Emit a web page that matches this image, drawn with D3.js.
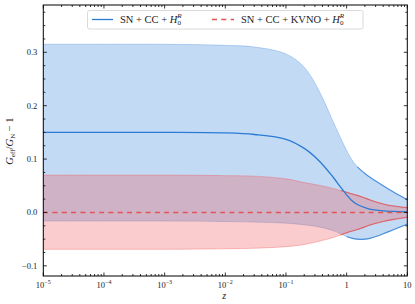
<!DOCTYPE html>
<html><head><meta charset="utf-8">
<script src="https://cdn.jsdelivr.net/npm/d3@7"></script>
<style>body{margin:0;background:#fff}svg{display:block}</style>
</head><body>
<svg id="c" width="415" height="304"></svg>
<script>
// redshift sample points
const zVals = [1e-5, 1e-4, 1e-3, 1e-2, 0.03, 0.1, 0.2, 0.35, 0.6, 0.8, 1, 1.2, 1.5, 2, 2.5, 4, 6, 10];
// SN + CC + H0R
const blueMean  = [0.150, 0.150, 0.150, 0.149, 0.146, 0.137, 0.120, 0.097, 0.066, 0.047, 0.033, 0.023, 0.015, 0.009, 0.006, 0.003, 0.002, 0.001];
const blueUpper = [0.315, 0.315, 0.315, 0.313, 0.310, 0.297, 0.272, 0.228, 0.170, 0.139, 0.116, 0.100, 0.0855, 0.073, 0.065, 0.050, 0.038, 0.024];
const blueLower = [-0.016, -0.016, -0.016, -0.017, -0.018, -0.020, -0.023, -0.027, -0.034, -0.040, -0.045, -0.048, -0.050, -0.050, -0.048, -0.040, -0.032, -0.022];
// SN + CC + KVNO + H0R
const redMean  = [0, 0, 0, 0, 0, 0, 0, 0, 0, 0, 0, 0, 0, 0, 0, 0, 0, 0];
const redUpper = [0.070, 0.070, 0.070, 0.069, 0.068, 0.063, 0.056, 0.051, 0.045, 0.041, 0.038, 0.035, 0.032, 0.027, 0.023, 0.016, 0.012, 0.009];
const redLower = [-0.069, -0.069, -0.069, -0.068, -0.067, -0.064, -0.060, -0.054, -0.047, -0.042, -0.038, -0.035, -0.032, -0.027, -0.023, -0.017, -0.013, -0.009];
const xTicks = [1e-5, 1e-4, 1e-3, 1e-2, 1e-1, 1, 10];
const xTickLabels = [["10","−5"],["10","−4"],["10","−3"],["10","−2"],["10","−1"],["1",""],["10",""]];
const yTicks = [-0.1, 0.0, 0.1, 0.2, 0.3];
const yTickLabels = ["−0.1", "0.0", "0.1", "0.2", "0.3"];
const legendLabels = [["SN + CC + ", "H", "0", "R"], ["SN + CC + KVNO + ", "H", "0", "R"]];

const svg = d3.select("#c");
const L = 43.3, R = 407.3, T = 5, B = 276;
const x = d3.scaleLog().domain([1e-5, 10]).range([L, R]);
const y = d3.scaleLinear().domain([-0.119, 0.3886]).range([B, T]);
const font = "'Liberation Serif', 'DejaVu Serif', serif";

svg.append("clipPath").attr("id","clp").append("rect")
  .attr("x", L).attr("y", T).attr("width", R-L).attr("height", B-T);
const g = svg.append("g").attr("clip-path","url(#clp)");

const idx = d3.range(zVals.length);
const curve = d3.curveCatmullRom.alpha(0.5);
const area = (lo, hi) => d3.area().x(i => x(zVals[i])).y0(i => y(lo[i])).y1(i => y(hi[i])).curve(curve);
const line = (v) => d3.line().x(i => x(zVals[i])).y(i => y(v[i])).curve(curve);

// blue band
g.append("path").attr("d", area(blueLower, blueUpper)(idx)).attr("fill", "#4a90e2").attr("fill-opacity", 0.33);
[blueUpper, blueLower].forEach(v => g.append("path").attr("d", line(v)(idx)).attr("fill","none")
  .attr("stroke","#4a90e2").attr("stroke-opacity",0.35).attr("stroke-width",1));
// red band
g.append("path").attr("d", area(redLower, redUpper)(idx)).attr("fill", "#f0555a").attr("fill-opacity", 0.3);
[redUpper, redLower].forEach(v => g.append("path").attr("d", line(v)(idx)).attr("fill","none")
  .attr("stroke","#f0555a").attr("stroke-opacity",0.35).attr("stroke-width",1));
// darker edges at high z
const sub = zmin => idx.filter(i => zVals[i] >= zmin);
[[blueUpper, 1.5], [blueLower, 1]].forEach(([v, zm]) => g.append("path").attr("d", line(v)(sub(zm))).attr("fill","none")
  .attr("stroke","#2a7bd4").attr("stroke-opacity",0.75).attr("stroke-width",1.1));
[[redUpper, 0.8], [redLower, 0.8]].forEach(([v, zm]) => g.append("path").attr("d", line(v)(sub(zm))).attr("fill","none")
  .attr("stroke","#e04a4a").attr("stroke-opacity",0.7).attr("stroke-width",1.1));
// mean lines
g.append("path").attr("d", line(blueMean)(idx)).attr("fill","none").attr("stroke","#2a7bd4").attr("stroke-width",1.3);
g.append("path").attr("d", line(redMean)(idx)).attr("fill","none").attr("stroke","#e05555")
  .attr("stroke-width",1.4).attr("stroke-dasharray","5,4.3");

// axes
const minorX = [];
for (let e = -5; e < 1; e++) for (let k = 2; k <= 9; k++) minorX.push(k * Math.pow(10, e));
const minorY = d3.range(-0.1, 0.38, 0.025).filter(v => Math.abs(Math.round(v*10)/10 - v) > 1e-6);
const ax = svg.append("g").attr("stroke","#000").attr("stroke-width",0.8);
xTicks.forEach(t => {
  ax.append("line").attr("x1",x(t)).attr("x2",x(t)).attr("y1",B).attr("y2",B-3.5);
  ax.append("line").attr("x1",x(t)).attr("x2",x(t)).attr("y1",T).attr("y2",T+3.5);
});
minorX.forEach(t => {
  ax.append("line").attr("x1",x(t)).attr("x2",x(t)).attr("y1",B).attr("y2",B-2);
  ax.append("line").attr("x1",x(t)).attr("x2",x(t)).attr("y1",T).attr("y2",T+2);
});
yTicks.forEach(t => {
  ax.append("line").attr("x1",L).attr("x2",L+3.5).attr("y1",y(t)).attr("y2",y(t));
  ax.append("line").attr("x1",R).attr("x2",R-3.5).attr("y1",y(t)).attr("y2",y(t));
});
minorY.forEach(t => {
  ax.append("line").attr("x1",L).attr("x2",L+2).attr("y1",y(t)).attr("y2",y(t));
  ax.append("line").attr("x1",R).attr("x2",R-2).attr("y1",y(t)).attr("y2",y(t));
});
svg.append("rect").attr("x",L).attr("y",T).attr("width",R-L).attr("height",B-T)
  .attr("fill","none").attr("stroke","#000").attr("stroke-width",1);

// tick labels
xTicks.forEach((t, i) => {
  const tx = svg.append("text").attr("x", x(t)).attr("y", B+12).attr("text-anchor","middle")
    .attr("font-family", font).attr("font-size", 8.5).attr("fill","#222");
  tx.append("tspan").text(xTickLabels[i][0]);
  if (xTickLabels[i][1]) tx.append("tspan").attr("font-size",6).attr("dy",-3.8).text(xTickLabels[i][1]);
});
yTicks.forEach((t, i) => {
  svg.append("text").attr("x", L-6).attr("y", y(t)+2.9).attr("text-anchor","end")
    .attr("font-family", font).attr("font-size", 8.5).attr("fill","#222").text(yTickLabels[i]);
});
// axis labels
svg.append("text").attr("x", (L+R)/2-1).attr("y", 299).attr("text-anchor","middle")
  .attr("font-family", font).attr("font-style","italic").attr("font-size", 10).attr("fill","#222").text("z");
const yl = svg.append("text").attr("transform","translate(13,141) rotate(-90)").attr("text-anchor","middle")
  .attr("font-family", font).attr("font-size", 10.5).attr("fill","#222");
yl.append("tspan").attr("font-style","italic").text("G");
yl.append("tspan").attr("font-size",7).attr("dy",2).text("eff");
yl.append("tspan").attr("dy",-2).text("/");
yl.append("tspan").attr("font-style","italic").text("G");
yl.append("tspan").attr("font-size",7).attr("dy",2).text("N");
yl.append("tspan").attr("dy",-2).text(" − 1");

// legend
svg.append("rect").attr("x",87.5).attr("y",10.5).attr("width",275.5).attr("height",18.5).attr("rx",2)
  .attr("fill","#fff").attr("fill-opacity",0.85).attr("stroke","#d0d0d0").attr("stroke-width",0.8);
svg.append("line").attr("x1",92).attr("x2",113).attr("y1",19.5).attr("y2",19.5).attr("stroke","#2a7bd4").attr("stroke-width",1.3);
svg.append("line").attr("x1",212).attr("x2",234).attr("y1",19.5).attr("y2",19.5).attr("stroke","#e05555")
  .attr("stroke-width",1.4).attr("stroke-dasharray","5,4.3");
[[120, 0], [241, 1]].forEach(([lx, k]) => {
  const t = svg.append("text").attr("x", lx).attr("y", 23).attr("font-family", font).attr("font-size", 10.5).attr("fill","#222");
  t.append("tspan").text(legendLabels[k][0]);
  t.append("tspan").attr("font-style","italic").text(legendLabels[k][1]);
  t.append("tspan").attr("font-size",7).attr("dy",2.2).text(legendLabels[k][2]);
  t.append("tspan").attr("font-size",7).attr("font-style","italic").attr("dx",-3.6).attr("dy",-7).text(legendLabels[k][3]);
});
</script>
</body></html>
